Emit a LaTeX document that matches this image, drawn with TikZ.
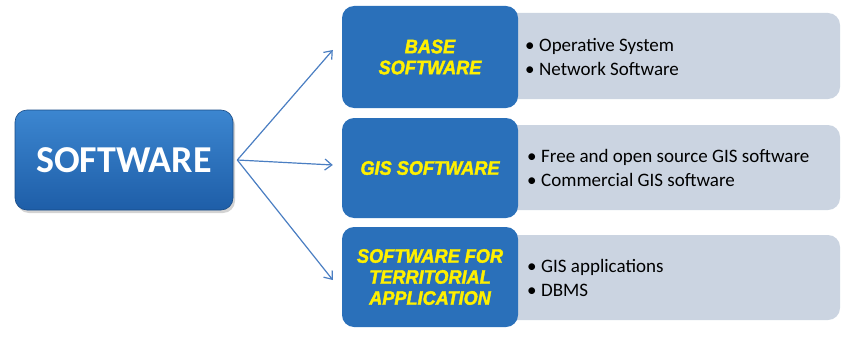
\documentclass[tikz,border=0pt]{standalone}
\usepackage{fontspec}
\setmainfont{Carlito}
\newfontfamily\headfont[BoldItalicFeatures={FakeBold=2}]{Liberation Sans}
\usetikzlibrary{arrows.meta,shadows}
\definecolor{bluetop}{HTML}{3C86D0}
\definecolor{bluebot}{HTML}{1E5EA8}
\definecolor{bluemid}{HTML}{2A70BA}
\definecolor{grayfill}{HTML}{CBD4E1}
\definecolor{arrowblue}{HTML}{4A7EC2}
\definecolor{headyellow}{HTML}{FFF000}
\tikzset{
  mainbox/.style={rounded corners=12pt, top color=bluetop, bottom color=bluebot,
    draw=bluebot!80!black, line width=0.6pt, minimum width=218pt, minimum height=100pt,
    drop shadow={opacity=0.35, shadow xshift=2pt, shadow yshift=-3pt},
    text=white, font=\fontsize{38}{40}\selectfont\bfseries},
  catbox/.style={rounded corners=12pt, fill=bluemid, minimum width=176pt,
    text=headyellow, align=center, inner sep=0pt,
    font=\headfont\fontsize{19.5}{21}\selectfont\bfseries\itshape},
  listbox/.style={rounded corners=12pt, fill=grayfill, minimum width=340pt},
  listtext/.style={anchor=west, align=left, inner sep=0pt,
    font=\fontsize{19}{23.5}\selectfont},
  conn/.style={draw=arrowblue, line width=1.2pt, -{Straight Barb[length=7pt,width=11pt]}}
}
\newcommand{\bul}{\makebox[14pt][l]{\textbullet}}
\begin{document}
\begin{tikzpicture}[x=1pt,y=-1pt]
\useasboundingbox (0,0) rectangle (845,337);
% gray list boxes
\node[listbox, minimum height=86pt] (g1) at (670,56) {};
\node[listbox, minimum height=85pt] (g2) at (670,167.5) {};
\node[listbox, minimum height=85pt] (g3) at (670,277.5) {};
% category boxes
\node[catbox, minimum height=102pt] (b1) at (430,57) {\scalebox{0.93}[1]{BASE}\\\scalebox{0.93}[1]{SOFTWARE}};
\node[catbox, minimum height=100pt] (b2) at (430,168) {\scalebox{0.93}[1]{GIS SOFTWARE}};
\node[catbox, minimum height=100pt] (b3) at (430,277) {\scalebox{0.93}[1]{SOFTWARE FOR}\\\scalebox{0.93}[1]{TERRITORIAL}\\\scalebox{0.93}[1]{APPLICATION}};
% main box
\node[mainbox] (soft) at (124,160) {SOFTWARE};
% list texts
\node[listtext] (t1) at (525,57) {\bul Operative System\\\bul Network Software};
\node[listtext] (t2) at (527,168) {\bul Free and open source GIS software\\\bul Commercial GIS software};
\node[listtext] (t3) at (527,278) {\bul GIS applications\\\bul DBMS};
% connectors
\draw[conn] ([xshift=4pt]soft.east) -- ([xshift=-9pt,yshift=7pt]b1.west);
\draw[conn] ([xshift=4pt]soft.east) -- ([xshift=-9pt,yshift=3pt]b2.west);
\draw[conn] ([xshift=4pt]soft.east) -- ([xshift=-9pt,yshift=-3pt]b3.west);
\end{tikzpicture}
\end{document}
